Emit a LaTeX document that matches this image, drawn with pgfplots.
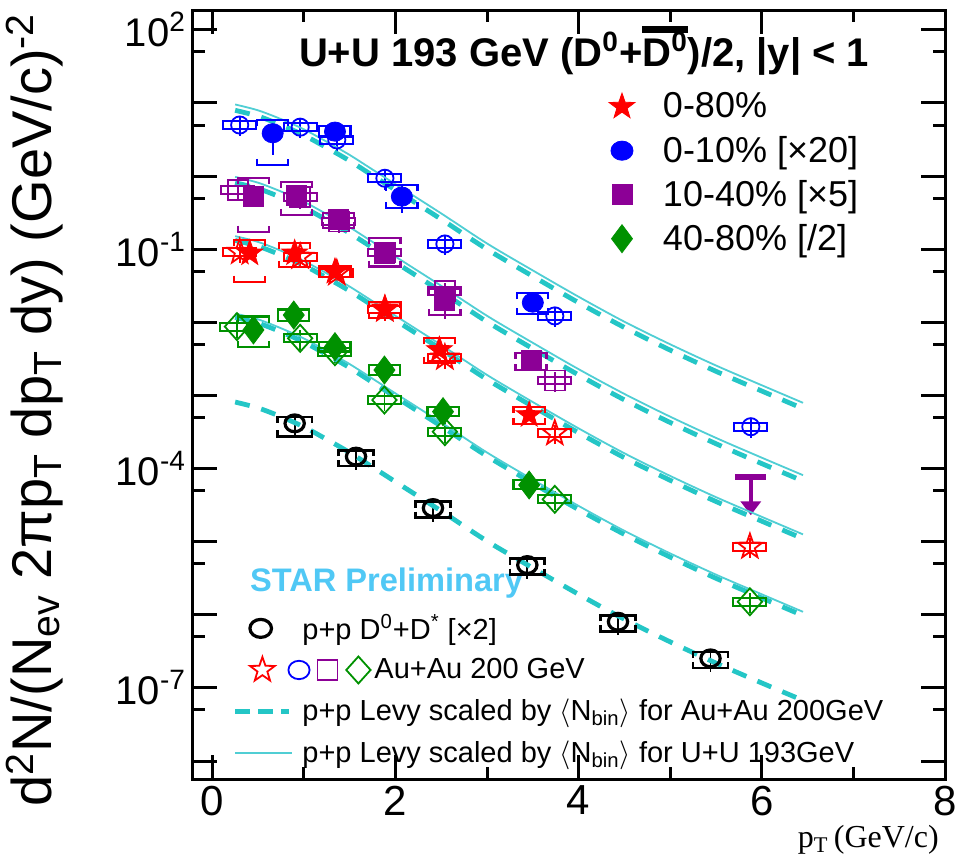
\documentclass[border=0pt]{standalone}
\usepackage{fontspec}
\setmainfont{Liberation Sans}
\newfontfamily\seriffont{Liberation Serif}
\usepackage{pgfplots}
\usepackage{pgfplotstable}
\pgfplotsset{compat=1.18}
\usetikzlibrary{arrows.meta}

\definecolor{ppRed}{RGB}{255,0,0}
\definecolor{ppBlue}{RGB}{0,0,255}
\definecolor{ppPurple}{RGB}{140,0,150}
\definecolor{ppGreen}{RGB}{0,145,0}
\definecolor{levyDash}{RGB}{36,198,198}
\definecolor{levyThin}{RGB}{80,206,212}
\definecolor{starBlue}{RGB}{80,200,245}

% canvas lengths of one unit in x and of one e-fold in y (axis 376pt x 384.5pt)
\def\xunit{45.80}
\def\decunit{15.875}

% systematic uncertainty brackets: lower and upper bracket around the point
\pgfdeclareplotmark{sysbr}{%
  \pgfmathsetmacro\sbt{min(3,0.5*(\sblo+\sbhi))}%
  \pgfpathmoveto{\pgfpoint{-\sbw pt}{-\sblo pt+\sbt pt}}%
  \pgfpathlineto{\pgfpoint{-\sbw pt}{-\sblo pt}}%
  \pgfpathlineto{\pgfpoint{\sbw pt}{-\sblo pt}}%
  \pgfpathlineto{\pgfpoint{\sbw pt}{-\sblo pt+\sbt pt}}%
  \pgfpathmoveto{\pgfpoint{-\sbw pt}{\sbhi pt-\sbt pt}}%
  \pgfpathlineto{\pgfpoint{-\sbw pt}{\sbhi pt}}%
  \pgfpathlineto{\pgfpoint{\sbw pt}{\sbhi pt}}%
  \pgfpathlineto{\pgfpoint{\sbw pt}{\sbhi pt-\sbt pt}}%
  \pgfusepathqstroke}

\def\starpath{%
  \pgfpathmoveto{\pgfqpointpolar{90}{\pgfplotmarksize}}%
  \pgfpathlineto{\pgfqpointpolar{126}{0.4\pgfplotmarksize}}%
  \pgfpathlineto{\pgfqpointpolar{162}{\pgfplotmarksize}}%
  \pgfpathlineto{\pgfqpointpolar{198}{0.4\pgfplotmarksize}}%
  \pgfpathlineto{\pgfqpointpolar{234}{\pgfplotmarksize}}%
  \pgfpathlineto{\pgfqpointpolar{270}{0.4\pgfplotmarksize}}%
  \pgfpathlineto{\pgfqpointpolar{306}{\pgfplotmarksize}}%
  \pgfpathlineto{\pgfqpointpolar{342}{0.4\pgfplotmarksize}}%
  \pgfpathlineto{\pgfqpointpolar{18}{\pgfplotmarksize}}%
  \pgfpathlineto{\pgfqpointpolar{54}{0.4\pgfplotmarksize}}%
  \pgfpathclose}
\pgfdeclareplotmark{fstar}{\starpath\pgfusepathqfillstroke}
\pgfdeclareplotmark{ostar}{\starpath\pgfusepathqstroke}

\pgfplotsset{
  sys/.style={only marks, mark=sysbr, line width=1.1pt, forget plot,
    visualization depends on={\thisrow{dx}*\xunit \as \sbw},
    visualization depends on={ln(\thisrow{y}/\thisrow{ylo})*\decunit \as \sblo},
    visualization depends on={ln(\thisrow{yhi}/\thisrow{y})*\decunit \as \sbhi}},
  stat/.style={forget plot,
    error bars/y dir=both, error bars/y explicit,
    error bars/error mark=none,
    error bars/error bar style={line width=0.9pt, solid}},
  levydash/.style={levyDash, line width=2.4pt, dash pattern=on 7.5pt off 6pt, smooth, forget plot},
  levythin/.style={levyThin, line width=0.9pt, smooth, forget plot},
}

\newcommand\barD{\rlap{\raisebox{0.84em}{\rule{1.15em}{0.17em}}}D\textsuperscript{0}}

% columns: pT, yield, sys low, sys high, box half width, stat error
\pgfplotstableread{
x y ylo yhi dx e
0.30 5.0 4.42 5.65 0.18 1.5
0.96 4.67 4.13 5.28 0.18 1.4
1.36 3.13 2.77 3.54 0.18 0.94
1.885 0.935 0.827 1.057 0.18 0.28
2.54 0.118 0.104 0.133 0.18 0.035
3.74 0.01225 0.01084 0.01384 0.18 0.0037
5.88 3.74e-4 3.31e-4 4.23e-4 0.18 1.1e-4
}\auBlue
\pgfplotstableread{
x y ylo yhi dx e
0.30 0.092 0.0814 0.104 0.18 0.028
0.96 0.079 0.0699 0.0893 0.18 0.024
1.36 0.047 0.0416 0.0531 0.18 0.014
1.885 0.0150 0.01327 0.01695 0.18 0.0045
2.54 3.3e-3 2.92e-3 3.73e-3 0.18 1.0e-3
3.74 3.04e-4 2.69e-4 3.44e-4 0.18 9e-5
5.87 8.55e-6 7.57e-6 9.66e-6 0.18 2.6e-6
}\auRed
\pgfplotstableread{
x y ylo yhi dx e
0.28 0.647 0.573 0.731 0.18 0.19
0.96 0.52 0.460 0.588 0.18 0.16
1.38 0.24 0.212 0.271 0.18 0.072
1.885 0.090 0.0796 0.1017 0.18 0.027
2.54 0.027 0.0239 0.0305 0.18 0.008
3.74 1.6e-3 1.416e-3 1.808e-3 0.18 4.8e-4
}\auPurple
\pgfplotstableread{
x y ylo yhi dx e
0.27 8.75e-3 7.74e-3 9.89e-3 0.18 2.6e-3
0.96 6.05e-3 5.35e-3 6.84e-3 0.18 1.8e-3
1.34 3.97e-3 3.51e-3 4.49e-3 0.18 1.2e-3
1.88 8.67e-4 7.67e-4 9.80e-4 0.18 2.6e-4
2.54 3.2e-4 2.83e-4 3.62e-4 0.18 9.6e-5
3.74 3.80e-5 3.36e-5 4.29e-5 0.18 1.1e-5
5.87 1.51e-6 1.336e-6 1.706e-6 0.18 4.5e-7
}\auGreen
\pgfplotstableread{
x y ylo yhi dx e
0.66 3.86 1.42 5.8 0.17 1.9
1.34 4.06 3.4 4.8 0.17 0.5
2.07 0.525 0.364 0.759 0.17 0.21
3.50 0.0186 0.0130 0.025 0.17 0.0025
}\uuBlue
\pgfplotstableread{
x y ylo yhi dx e
0.41 0.088 0.036 0.134 0.17 0.012
0.90 0.088 0.0578 0.121 0.17 0.01
1.34 0.0494 0.042 0.058 0.17 0.005
1.885 0.0156 0.0114 0.0192 0.17 0.0015
2.48 4.2e-3 2.75e-3 6.05e-3 0.17 4e-4
3.46 5.41e-4 4.07e-4 7.03e-4 0.17 6e-5
}\uuRed
\pgfplotstableread{
x y ylo yhi dx e
0.45 0.536 0.174 0.935 0.17 0.1
0.92 0.553 0.294 0.841 0.17 0.08
1.375 0.252 0.194 0.31 0.17 0.03
1.885 0.088 0.058 0.143 0.17 0.01
2.54 0.020 0.0125 0.029 0.17 0.009
3.48 3.06e-3 2.23e-3 3.8e-3 0.17 3e-4
}\uuPurple
\pgfplotstableread{
x y ylo yhi dx e
0.45 7.87e-3 4.65e-3 0.012 0.17 1e-3
0.89 0.0126 0.0105 0.0150 0.17 1e-3
1.34 4.65e-3 4.0e-3 5.4e-3 0.17 4e-4
1.88 2.23e-3 1.9e-3 2.6e-3 0.17 2e-4
2.52 6.01e-4 5.2e-4 6.9e-4 0.17 5e-5
3.46 5.97e-5 5.2e-5 6.9e-5 0.17 6e-6
}\uuGreen
\pgfplotstableread{
x y ylo yhi dx e
0.90 4.16e-4 2.75e-4 5.1e-4 0.19 1.46e-4
1.57 1.46e-4 1.08e-4 1.78e-4 0.19 5.1e-5
2.41 2.89e-5 2.14e-5 3.53e-5 0.19 1.0e-5
3.44 4.8e-6 3.56e-6 5.86e-6 0.19 1.7e-6
4.43 8.05e-7 5.96e-7 9.82e-7 0.19 2.8e-7
5.44 2.54e-7 1.88e-7 3.10e-7 0.19 8.9e-8
}\ppRef
% p+p Levy fit (pp) and its N_bin scaled versions: S = U+U 193 GeV, D = Au+Au 200 GeV
\pgfplotstableread{
x pp bS bD pS pD rS rD gS gD
0.25 8.13e-4 9.55 7.94 0.977 0.813 0.151 0.132 0.0132 0.0117
0.5 6.76e-4 7.94 6.61 0.813 0.676 0.126 0.110 0.0110 9.77e-3
0.75 5.13e-4 6.03 5.01 0.617 0.513 0.0955 0.0832 8.32e-3 7.41e-3
1.0 3.72e-4 4.37 3.63 0.447 0.372 0.0692 0.0603 6.03e-3 5.37e-3
1.25 2.51e-4 2.95 2.45 0.302 0.251 0.0468 0.0407 4.07e-3 3.63e-3
1.5 1.66e-4 1.95 1.62 0.200 0.166 0.0309 0.0269 2.69e-3 2.40e-3
1.75 1.05e-4 1.23 1.02 0.126 0.105 0.0195 0.0170 1.70e-3 1.51e-3
2.0 6.61e-5 0.776 0.646 0.0794 0.0661 0.0123 0.0107 1.07e-3 9.55e-4
2.5 2.63e-5 0.309 0.257 0.0316 0.0263 4.90e-3 4.27e-3 4.27e-4 3.80e-4
3.0 1.02e-5 0.120 0.100 0.0123 0.0102 1.91e-3 1.66e-3 1.66e-4 1.48e-4
3.5 4.37e-6 0.0513 0.0427 5.25e-3 4.37e-3 8.13e-4 7.08e-4 7.08e-5 6.31e-5
4.0 1.91e-6 0.0224 0.0186 2.29e-3 1.91e-3 3.55e-4 3.09e-4 3.09e-5 2.75e-5
4.5 8.71e-7 0.0102 8.51e-3 1.05e-3 8.71e-4 1.62e-4 1.41e-4 1.41e-5 1.26e-5
5.0 4.27e-7 5.01e-3 4.17e-3 5.13e-4 4.27e-4 7.94e-5 6.92e-5 6.92e-6 6.17e-6
5.5 2.19e-7 2.57e-3 2.14e-3 2.63e-4 2.19e-4 4.07e-5 3.55e-5 3.55e-6 3.16e-6
6.0 1.17e-7 1.38e-3 1.15e-3 1.41e-4 1.17e-4 2.19e-5 1.91e-5 1.91e-6 1.70e-6
6.45 6.76e-8 7.94e-4 6.61e-4 8.13e-5 6.76e-5 1.26e-5 1.10e-5 1.10e-6 9.77e-7
}\levy

\begin{document}
\begin{tikzpicture}
\begin{axis}[
  at={(0,0)}, anchor=south west,
  scale only axis, width=376pt, height=384.5pt,
  xmin=-0.21, xmax=8, ymode=log, ymin=5.69e-9, ymax=187,
  xtick={0,2,4,6,8}, minor xtick={1,3,5,7},
  ytick={1e-8,1e-7,1e-6,1e-5,1e-4,1e-3,1e-2,1e-1,1,10,100},
  yticklabels={,10\textsuperscript{-7},,,10\textsuperscript{-4},,,10\textsuperscript{-1},,,10\textsuperscript{2}},
  minor ytick={5e-9,5e-8,5e-7,5e-6,5e-5,5e-4,5e-3,5e-2,0.5,5,50},
  tick align=inside,
  major tick length=12pt, minor tick length=6pt,
  major tick style={line width=1.5pt, black},
  minor tick style={line width=1.5pt, black},
  axis line style={line width=1.5pt},
  xticklabel style={font=\fontsize{21}{23}\selectfont},
  yticklabel style={font=\fontsize{20}{22}\selectfont},
  /pgf/number format/assume math mode=true,
  xlabel={p\textsubscript{T}\,(GeV/c)},
  xlabel style={font=\seriffont\fontsize{16}{18}\selectfont, at={(axis description cs:0.898,-0.079)}, anchor=center},
  ylabel={d\textsuperscript{2}N/(N\textsubscript{ev} 2πp\textsubscript{T} dp\textsubscript{T} dy) (GeV/c)\textsuperscript{-2}},
  ylabel style={font=\fontsize{28}{30}\selectfont, at={(axis description cs:-0.21,0.48)}, anchor=center},
  legend style={at={(axis description cs:0.5492,0.9029)}, anchor=north west,
    draw=none, fill=none, inner sep=0pt, outer sep=0pt, row sep=0pt, column sep=0pt,
    font=\fontsize{18}{20}\selectfont, nodes={inner sep=0pt, outer sep=0pt}},
  legend cell align=left,
  legend image code/.code={\path[draw=none, fill=none] (-8pt,-11pt) rectangle (20.5pt,11pt);
    \draw[#1] plot coordinates {(0pt,0pt)};},
]
% Au+Au 200 GeV reference points
\addplot[sys, ppBlue, line width=1pt] table {\auBlue};
\addplot[sys, ppRed, line width=1pt] table {\auRed};
\addplot[sys, ppPurple, line width=1pt] table {\auPurple};
\addplot[sys, ppGreen, line width=1pt] table {\auGreen};
\addplot[ppBlue, only marks, mark=o, mark size=4.3pt, line width=0.9pt, stat] table[x=x, y=y, y error=e] {\auBlue};
\addplot[ppRed, only marks, mark=ostar, mark size=6.5pt, line width=0.9pt, stat] table[x=x, y=y, y error=e] {\auRed};
\addplot[ppPurple, only marks, mark=square, mark size=5pt, line width=0.9pt, stat] table[x=x, y=y, y error=e] {\auPurple};
\addplot[ppGreen, only marks, mark=diamond, mark size=6.75pt, mark options={xscale=1.2}, line width=0.9pt, stat] table[x=x, y=y, y error=e] {\auGreen};
% p+p reference
\addplot[sys, black, line width=1.3pt] table {\ppRef};
\addplot[black, only marks, mark=o, mark size=4.2pt, mark options={xscale=1.15}, line width=1.6pt, stat] table[x=x, y=y, y error=e] {\ppRef};
% U+U 193 GeV
\addplot[sys, ppBlue] table {\uuBlue};
\addplot[sys, ppRed] table {\uuRed};
\addplot[sys, ppPurple] table {\uuPurple};
\addplot[sys, ppGreen] table {\uuGreen};
\addplot[ppRed, only marks, mark=fstar, mark size=6.8pt, line width=0.4pt, stat] table[x=x, y=y, y error=e] {\uuRed};
\addplot[ppBlue, only marks, mark=*, mark size=4.8pt, mark options={xscale=1.1}, stat] table[x=x, y=y, y error=e] {\uuBlue};
\addplot[ppPurple, only marks, mark=square*, mark size=5pt, stat] table[x=x, y=y, y error=e] {\uuPurple};
\addplot[ppGreen, only marks, mark=diamond*, mark size=7pt, stat] table[x=x, y=y, y error=e] {\uuGreen};
% 10-40% upper limit at high pT
\addplot[ppPurple, line width=3pt, forget plot] coordinates {(5.71,7.7e-5) (6.05,7.7e-5)};
\addplot[ppPurple, line width=2pt, -{Triangle[width=10pt,length=7pt]}, forget plot] coordinates {(5.88,7.7e-5) (5.88,2.3e-5)};
% Levy curves
\addplot[levydash] table[x=x, y=pp] {\levy};
\addplot[levydash] table[x=x, y=bD] {\levy};
\addplot[levydash] table[x=x, y=pD] {\levy};
\addplot[levydash] table[x=x, y=rD] {\levy};
\addplot[levydash] table[x=x, y=gD] {\levy};
\addplot[levythin] table[x=x, y=bS] {\levy};
\addplot[levythin] table[x=x, y=pS] {\levy};
\addplot[levythin] table[x=x, y=rS] {\levy};
\addplot[levythin] table[x=x, y=gS] {\levy};

\addlegendimage{ppRed, only marks, mark=fstar, mark size=6.8pt, line width=0.4pt}
\addlegendentry{0-80\%}
\addlegendimage{ppBlue, only marks, mark=*, mark size=4.8pt, mark options={xscale=1.15}}
\addlegendentry{0-10\% [×20]}
\addlegendimage{ppPurple, only marks, mark=square*, mark size=5pt}
\addlegendentry{10-40\% [×5]}
\addlegendimage{ppGreen, only marks, mark=diamond*, mark size=7pt}
\addlegendentry{40-80\% [/2]}

\node[anchor=base west, font=\bfseries\fontsize{20}{22}\selectfont] at (axis description cs:0.1316,0.927)
  {U+U 193 GeV (D\textsuperscript{0}+\barD)/2, |y| < 1};
\node[anchor=west, font=\bfseries\fontsize{16.3}{18}\selectfont, text=starBlue] at (axis description cs:0.0665,0.2545)
  {STAR Preliminary};
\end{axis}

% second legend: reference data and Levy curves
\begin{axis}[
  at={(0,0)}, anchor=south west,
  scale only axis, width=376pt, height=384.5pt,
  hide axis, xmin=0, xmax=1, ymin=0, ymax=1,
  legend style={at={(axis description cs:0.0532,0.2229)}, anchor=north west,
    draw=none, fill=none, inner sep=0pt, outer sep=0pt, row sep=0pt, column sep=0pt,
    font=\fontsize{14.5}{16}\selectfont, nodes={inner sep=0pt, outer sep=0pt}},
  legend cell align=left,
]
\addlegendimage{legend image code/.code={\path[draw=none, fill=none] (0pt,-10.4pt) rectangle (33.5pt,10.4pt);
  \draw[black, line width=1.6pt, only marks, mark=o, mark size=4.5pt, mark options={xscale=1.2}] plot coordinates {(12.65pt,0pt)};}}
\addlegendentry{p+p D\textsuperscript{0}+D\textsuperscript{*} [×2]}
\addlegendimage{legend image code/.code={\path[draw=none, fill=none] (0pt,-10.4pt) rectangle (33.5pt,10.4pt);
  \draw[overlay, ppRed, line width=0.9pt, only marks, mark=ostar, mark size=6.5pt] plot coordinates {(13.5pt,0pt)};
  \draw[overlay, ppBlue, line width=0.9pt, only marks, mark=o, mark size=4.6pt, mark options={xscale=1.15}] plot coordinates {(31.8pt,0pt)};
  \draw[overlay, ppPurple, line width=0.9pt, only marks, mark=square, mark size=5pt] plot coordinates {(46pt,0pt)};
  \draw[overlay, ppGreen, line width=0.9pt, only marks, mark=diamond, mark size=6.75pt, mark options={xscale=1.2}] plot coordinates {(61.5pt,0pt)};}}
\addlegendentry{\hspace*{36pt}Au+Au 200 GeV}
\addlegendimage{legend image code/.code={\path[draw=none, fill=none] (0pt,-10.4pt) rectangle (33.5pt,10.4pt);
  \draw[levyDash, line width=2.4pt, dash pattern=on 7.5pt off 4pt] (0pt,0pt) -- (27pt,0pt);}}
\addlegendentry{p+p Levy scaled by $\langle$N\textsubscript{bin}$\rangle$ for Au+Au 200GeV}
\addlegendimage{legend image code/.code={\path[draw=none, fill=none] (0pt,-10.4pt) rectangle (33.5pt,10.4pt);
  \draw[levyThin, line width=0.9pt] (0pt,0pt) -- (28.5pt,0pt);}}
\addlegendentry{p+p Levy scaled by $\langle$N\textsubscript{bin}$\rangle$ for U+U 193GeV}
\end{axis}

\pgfresetboundingbox
\path[use as bounding box] (-96.5pt,-38.5pt) rectangle (383pt,389.5pt);
\end{tikzpicture}
\end{document}
